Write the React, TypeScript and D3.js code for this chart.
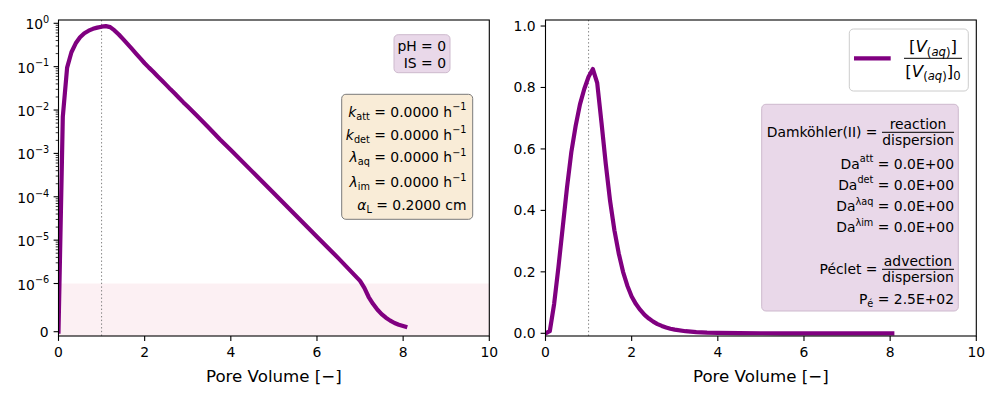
import React from 'react';
import * as d3 from 'd3';

// ---------- data ----------
const poreVolume = [0, 0.1, 0.2, 0.3, 0.4, 0.5, 0.6, 0.7, 0.8, 0.9, 1.0, 1.1, 1.2, 1.3, 1.4, 1.5, 1.6, 1.7, 1.8, 1.9, 2.0,
  2.1, 2.2, 2.3, 2.4, 2.5, 2.6, 2.7, 2.8, 2.9, 3.0, 3.25, 3.5, 3.75, 4.0, 4.5, 5.0, 5.5, 6.0, 6.5, 7.0,
  7.1, 7.2, 7.3, 7.4, 7.5, 7.6, 7.7, 7.8, 7.9, 8.05];
const concentration = [0, 0.007, 0.095, 0.215, 0.345, 0.475, 0.59, 0.675, 0.745, 0.795, 0.835, 0.86, 0.815, 0.685, 0.55, 0.43, 0.335, 0.26, 0.2, 0.155, 0.12,
  0.095, 0.076, 0.06, 0.048, 0.038, 0.03, 0.024, 0.019, 0.015, 0.012, 0.0068, 0.0038, 0.0021, 0.0012, 3.8e-4, 1.2e-4, 3.8e-5, 1.2e-5, 3.8e-6, 1.15e-6,
  9.1e-7, 7.2e-7, 5.8e-7, 4.6e-7, 3.65e-7, 2.9e-7, 2.3e-7, 1.8e-7, 1.45e-7, 1.05e-7];
const xTicks = [0, 2, 4, 6, 8, 10];
const logTickExps = [-6, -5, -4, -3, -2, -1, 0];
const linTicks = [0, 0.2, 0.4, 0.6, 0.8, 1.0];
const markerPV = 1;
const linthresh = 1e-6;
const paramLabels = [
  [{ t: 'k', it: true }, { t: 'att', sub: true }, { t: ' = 0.0000 h' }, { t: '\u22121', sup: true }],
  [{ t: 'k', it: true }, { t: 'det', sub: true }, { t: ' = 0.0000 h' }, { t: '\u22121', sup: true }],
  [{ t: '\u03bb', it: true }, { t: 'aq', sub: true }, { t: ' = 0.0000 h' }, { t: '\u22121', sup: true }],
  [{ t: '\u03bb', it: true }, { t: 'im', sub: true }, { t: ' = 0.0000 h' }, { t: '\u22121', sup: true }],
  [{ t: '\u03b1', it: true }, { t: 'L', sub: true }, { t: ' = 0.2000 cm' }],
];
const chemLabels = ['pH = 0', 'IS = 0'];
const daLabels = [
  [{ t: 'Da' }, { t: 'att', sup: true }, { t: ' = 0.0E+00' }],
  [{ t: 'Da' }, { t: 'det', sup: true }, { t: ' = 0.0E+00' }],
  [{ t: 'Da' }, { t: '\u03bbaq', sup: true }, { t: ' = 0.0E+00' }],
  [{ t: 'Da' }, { t: '\u03bbim', sup: true }, { t: ' = 0.0E+00' }],
];
const pecletLabel = [{ t: 'P' }, { t: '\u00e9', sub: true }, { t: ' = 2.5E+02' }];

// ---------- layout ----------
const FONT = 'DejaVu Sans';
const FS = 13.9;
const TOP = 20, BOTTOM = 336;
const LEFT_X = [58.5, 489.3];
const RIGHT_X = [545.5, 976.3];
const PURPLE = '#800080';

const LINSCALE = 1 / (1 - 1 / 10);
function symlogT(v: number) {
  const a = Math.abs(v);
  if (a <= linthresh) return (v / linthresh) * LINSCALE;
  return Math.sign(v) * (LINSCALE + Math.log10(a / linthresh));
}

type Seg = { t: string; it?: boolean; sub?: boolean; sup?: boolean };

function Rich({ x, y, anchor = 'start', size = FS, segs }: { x: number; y: number; anchor?: string; size?: number; segs: Seg[] }) {
  let cur = 0;
  const kids = segs.map((s, i) => {
    const target = s.sub ? size * 0.22 : s.sup ? -size * 0.45 : 0;
    const dy = target - cur;
    cur = target;
    return (
      <tspan key={i} dy={dy} fontSize={s.sub || s.sup ? size * 0.7 : size} fontStyle={s.it ? 'italic' : 'normal'}>
        {s.t}
      </tspan>
    );
  });
  return (
    <text x={x} y={y} textAnchor={anchor} fontSize={size} style={{ whiteSpace: 'pre' }}>
      {kids}
    </text>
  );
}

export default function App() {
  const data = poreVolume.map((p, i) => ({ p, v: concentration[i] }));

  const xL = d3.scaleLinear().domain([0, 10]).range(LEFT_X);
  const xR = d3.scaleLinear().domain([0, 10]).range(RIGHT_X);
  const yU = d3.scaleLinear().domain([-0.099, 7.187]).range([BOTTOM, TOP]);
  const yL = (v: number) => yU(symlogT(v));
  const yR = d3.scaleLinear().domain([-0.0088, 1.0196]).range([BOTTOM, TOP]);

  const lineL = d3.line<{ p: number; v: number }>().x(d => xL(d.p)).y(d => yL(d.v))(data) || '';
  const lineR = d3.line<{ p: number; v: number }>().x(d => xR(d.p)).y(d => yR(d.v))(data) || '';

  const minor: number[] = [];
  logTickExps.forEach(k => {
    if (k >= 0) return;
    for (let m = 2; m <= 9; m++) minor.push(m * Math.pow(10, k));
  });

  const xAxis = (xs: d3.ScaleLinear<number, number>) => (
    <g>
      {xTicks.map(t => (
        <g key={t}>
          <line x1={xs(t)} x2={xs(t)} y1={BOTTOM} y2={BOTTOM + 4.9} stroke="#000" strokeWidth={1.1} />
          <text x={xs(t)} y={356.5} textAnchor="middle" fontSize={FS}>{t}</text>
        </g>
      ))}
      <text x={(xs(0) + xs(10)) / 2} y={381.7} textAnchor="middle" fontSize={16.67}>Pore Volume [{'\u2212'}]</text>
    </g>
  );

  const frame = (xs: number[]) => (
    <rect x={xs[0]} y={TOP} width={xs[1] - xs[0]} height={BOTTOM - TOP} fill="none" stroke="#000" strokeWidth={1.1} />
  );

  const fracX = 918;

  return (
    <svg width={1000} height={400} style={{ position: 'absolute', left: 0, top: 0, background: '#fff' }} fontFamily={FONT}>
      <defs>
        <clipPath id="clipL"><rect x={LEFT_X[0]} y={TOP} width={LEFT_X[1] - LEFT_X[0]} height={BOTTOM - TOP} /></clipPath>
        <clipPath id="clipR"><rect x={RIGHT_X[0]} y={TOP} width={RIGHT_X[1] - RIGHT_X[0]} height={BOTTOM - TOP} /></clipPath>
      </defs>

      {/* ---------------- left panel ---------------- */}
      <g clipPath="url(#clipL)">
        <rect x={LEFT_X[0]} y={yL(linthresh)} width={LEFT_X[1] - LEFT_X[0]} height={BOTTOM - yL(linthresh)} fill="#fcf0f3" />
        <line x1={xL(markerPV)} x2={xL(markerPV)} y1={TOP} y2={BOTTOM} stroke="#808080" strokeWidth={1} strokeDasharray="1.4,2.3" />
        <path d={lineL} fill="none" stroke={PURPLE} strokeWidth={4.2} strokeLinejoin="round" strokeLinecap="square" />
      </g>
      {frame(LEFT_X)}
      {xAxis(xL)}
      {/* y ticks */}
      <g>
        <line x1={LEFT_X[0]} x2={LEFT_X[0] - 4.9} y1={yL(0)} y2={yL(0)} stroke="#000" strokeWidth={1.1} />
        <text x={48.7} y={yL(0) + 5} textAnchor="end" fontSize={FS}>0</text>
        {logTickExps.map(k => (
          <g key={k}>
            <line x1={LEFT_X[0]} x2={LEFT_X[0] - 4.9} y1={yL(Math.pow(10, k))} y2={yL(Math.pow(10, k))} stroke="#000" strokeWidth={1.1} />
            <Rich x={49.3} y={yL(Math.pow(10, k)) + 6} anchor="end" segs={[{ t: '10' }, { t: k < 0 ? '\u2212' + Math.abs(k) : String(k), sup: true }]} />
          </g>
        ))}
        {minor.map((m, i) => (
          <line key={i} x1={LEFT_X[0]} x2={LEFT_X[0] - 2.8} y1={yL(m)} y2={yL(m)} stroke="#000" strokeWidth={0.8} />
        ))}
      </g>
      {/* pH box */}
      <rect x={394} y={34.7} width={56} height={38} rx={4.2} fill="#e9d8e9" stroke="#cdb9cd" strokeWidth={1} />
      {chemLabels.map((s, i) => (
        <text key={s} x={446} y={51.3 + i * 16.2} textAnchor="end" fontSize={FS} style={{ whiteSpace: 'pre' }}>{s}</text>
      ))}
      {/* parameter box */}
      <rect x={341.7} y={94.3} width={131} height={125} rx={4.2} fill="#f9ecd7" stroke="#7a7a7a" strokeWidth={1} />
      {paramLabels.map((segs, i) => (
        <Rich key={i} x={466.5} y={[116.5, 139.6, 162.3, 187.3, 210.1][i]} anchor="end" segs={segs} />
      ))}

      {/* ---------------- right panel ---------------- */}
      <g clipPath="url(#clipR)">
        <line x1={xR(markerPV)} x2={xR(markerPV)} y1={TOP} y2={BOTTOM} stroke="#808080" strokeWidth={1} strokeDasharray="1.4,2.3" />
        <path d={lineR} fill="none" stroke={PURPLE} strokeWidth={4.2} strokeLinejoin="round" strokeLinecap="square" />
      </g>
      {frame(RIGHT_X)}
      {xAxis(xR)}
      {linTicks.map(t => (
        <g key={t}>
          <line x1={RIGHT_X[0]} x2={RIGHT_X[0] - 4.9} y1={yR(t)} y2={yR(t)} stroke="#000" strokeWidth={1.1} />
          <text x={535.7} y={yR(t) + 5} textAnchor="end" fontSize={FS}>{t.toFixed(1)}</text>
        </g>
      ))}

      {/* legend */}
      <rect x={849.3} y={29} width={119} height={62} rx={4.2} fill="#fff" stroke="#cccccc" strokeWidth={1} />
      <line x1={854} x2={890.7} y1={58.3} y2={58.3} stroke={PURPLE} strokeWidth={4.2} />
      <line x1={904} x2={962} y1={58.3} y2={58.3} stroke="#000" strokeWidth={1} />
      <Rich x={933} y={52.3} anchor="middle" size={16.67}
        segs={[{ t: '[' }, { t: 'V', it: true }, { t: '(', sub: true }, { t: 'aq', sub: true, it: true }, { t: ')', sub: true }, { t: ']' }]} />
      <Rich x={933} y={76.5} anchor="middle" size={16.67}
        segs={[{ t: '[' }, { t: 'V', it: true }, { t: '(', sub: true }, { t: 'aq', sub: true, it: true }, { t: ')', sub: true }, { t: ']' }, { t: '0', sub: true }]} />

      {/* dimensionless numbers box */}
      <rect x={761.7} y={104.3} width={196.6} height={206.7} rx={4.2} fill="#e9d8e9" stroke="#cdb9cd" strokeWidth={1} />
      <text x={877.5} y={137.3} textAnchor="end" fontSize={FS} style={{ whiteSpace: 'pre' }}>Damköhler(II) =</text>
      <line x1={882} x2={954} y1={132.3} y2={132.3} stroke="#000" strokeWidth={1} />
      <text x={fracX} y={129} textAnchor="middle" fontSize={FS}>reaction</text>
      <text x={fracX} y={144.6} textAnchor="middle" fontSize={FS}>dispersion</text>
      {daLabels.map((segs, i) => (
        <Rich key={i} x={954} y={[168.5, 189.5, 210.8, 231.8][i]} anchor="end" segs={segs} />
      ))}
      <text x={877.5} y={274.3} textAnchor="end" fontSize={FS} style={{ whiteSpace: 'pre' }}>Péclet =</text>
      <line x1={882} x2={954} y1={269.3} y2={269.3} stroke="#000" strokeWidth={1} />
      <text x={fracX} y={266} textAnchor="middle" fontSize={FS}>advection</text>
      <text x={fracX} y={281.6} textAnchor="middle" fontSize={FS}>dispersion</text>
      <Rich x={954} y={303.8} anchor="end" segs={pecletLabel} />
    </svg>
  );
}
